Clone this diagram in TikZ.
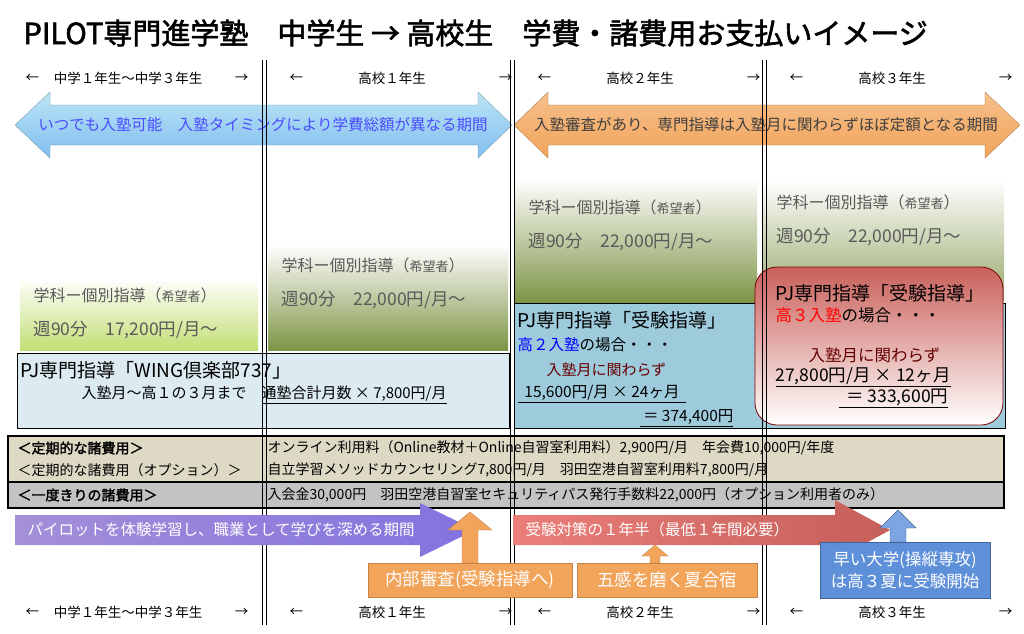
\documentclass[tikz,border=0pt]{standalone}
\usepackage{fontspec}
\newfontfamily\jp[AutoFakeBold=2]{Noto Sans CJK JP}
\definecolor{skyarr}{HTML}{8FD3EE}
\definecolor{orarr}{HTML}{F2A45A}
\definecolor{wingbg}{HTML}{DCEBF1}
\definecolor{jkbg}{HTML}{9ECBDC}
\definecolor{tanbg}{HTML}{DDD9C4}
\definecolor{greybg}{HTML}{C3C3C3}
\definecolor{lime}{HTML}{C2DF74}
\definecolor{olive}{HTML}{7E9446}
\definecolor{redbox}{HTML}{C9605A}
\definecolor{purarr}{HTML}{A48FD8}
\definecolor{redarr}{HTML}{E8706A}
\definecolor{bluebx}{HTML}{5E8FD9}
\begin{document}
\begin{tikzpicture}[x=1pt,y=-1pt,font=\jp,
  yearlbl/.style={font=\jp\fontsize{13.5}{15}\selectfont},
  arrtext/.style={font=\jp\fontsize{15.5}{18}\selectfont},
  upbox/.style={fill=orarr,draw=orarr!80!black,text=white,
    font=\jp\fontsize{17.5}{20}\selectfont,align=center}]
\useasboundingbox (0,0) rectangle (1024,633);
% title
\node[anchor=west,font=\jp\bfseries\fontsize{29}{32}\selectfont] (title) at (20,33)
  {PILOT専門進学塾　中学生 → 高校生　学費・諸費用お支払いイメージ};
% grade columns
\foreach \x/\lbl [count=\i] in {0/中学１年生〜中学３年生,264/高校１年生,512/高校２年生,764/高校３年生}{
  \node[yearlbl] (top\i) at (\x+128,78) {\lbl};
  \node[yearlbl] (bot\i) at (\x+128,612) {\lbl};
  \node[yearlbl,anchor=west] (tl\i) at (\x+22,78) {←};
  \node[yearlbl,anchor=east] (tr\i) at (\x+252,78) {→};
  \node[yearlbl,anchor=west] (bl\i) at (\x+22,612) {←};
  \node[yearlbl,anchor=east] (br\i) at (\x+252,612) {→};
}
% green boxes
\shade[top color=white,bottom color=lime] (20,278) rectangle (258,350);
\shade[top color=white,bottom color=olive] (268,245) rectangle (508,350);
\shade[top color=white,bottom color=olive] (514,178) rectangle (757,302);
\shade[top color=white,bottom color=olive!80] (762,180) rectangle (1004,300);
\foreach \x/\y/\fee [count=\i] in {30/295/17{,}200,278/265/22{,}000,525/207/22{,}000,773/202/22{,}000}{
  \node[anchor=west,text=black!65,font=\jp\fontsize{16}{18}\selectfont] (gk\i) at (\x,\y) {学科ー個別指導（{\fontsize{13}{15}\selectfont 希望者}）};
  \node[anchor=west,text=black!65,font=\jp\fontsize{17.5}{19}\selectfont] (gf\i) at (\x,\y+35) {週90分　\fee 円/月〜};
}
% PJ boxes
\draw[fill=wingbg] (17,353) rectangle (509,428);
\node[anchor=west,font=\jp\fontsize{19}{21}\selectfont] (wing) at (17,370) {PJ専門指導「WING倶楽部737」};
\node[anchor=west,font=\jp\fontsize{15}{17}\selectfont] (wing2) at (78,395)
  {入塾月〜高１の３月まで　\underline{通塾合計月数 × 7,800円/月}};
\draw[fill=jkbg] (514,303) rectangle (1005,428);
\node[anchor=west,font=\jp\fontsize{19}{21}\selectfont] (jk) at (514,320) {PJ専門指導「受験指導」};
\node[anchor=west,font=\jp\fontsize{15.5}{17}\selectfont] (jk2) at (514,345) {\textcolor{blue}{高２入塾}の場合・・・};
\node[anchor=west,text=red!40!black,font=\jp\fontsize{15}{17}\selectfont] (jk3) at (543,370) {入塾月に関わらず};
\node[anchor=west,font=\jp\fontsize{15.5}{17}\selectfont] (jk4) at (514,394) {\underline{\ \ 15,600円/月 × 24ヶ月\ \ }};
\node[anchor=west,font=\jp\fontsize{15.5}{17}\selectfont] (jk5) at (636,418) {\underline{\ ＝ 374,400円}};
\draw[draw=red!50!black,top color=redbox,bottom color=white,rounded corners=22pt,line width=0.8pt]
  (755,267) rectangle (1003,425);
\node[anchor=west,font=\jp\fontsize{19}{21}\selectfont] (rd) at (772,293) {PJ専門指導「受験指導」};
\node[anchor=west,font=\jp\fontsize{16.5}{18}\selectfont] (rd2) at (772,315) {\textcolor{red}{高３入塾}の場合・・・};
\node[anchor=west,text=red!40!black,font=\jp\fontsize{16.5}{18}\selectfont] (rd3) at (805,355) {入塾月に関わらず};
\node[anchor=west,font=\jp\fontsize{17.5}{19}\selectfont] (rd4) at (772,377) {\underline{27,800円/月 × 12ヶ月}};
\node[anchor=west,font=\jp\fontsize{17.5}{19}\selectfont] (rd5) at (835,398) {\underline{\ \ ＝ 333,600円}};
% fee rows
\draw[fill=tanbg,line width=1.2pt] (8,436) rectangle (1004,482);
\draw[fill=greybg,line width=1.2pt] (8,482) rectangle (1004,508);
\node[anchor=west,font=\jp\bfseries\fontsize{14}{16}\selectfont] (f1) at (14,448) {＜定期的な諸費用＞};
\node[anchor=west,font=\jp\fontsize{14}{16}\selectfont] (f1b) at (264,448) {オンライン利用料（Online教材＋Online自習室利用料）2,900円/月　年会費10,000円/年度};
\node[anchor=west,font=\jp\fontsize{14}{16}\selectfont] (f2) at (14,470) {＜定期的な諸費用（オプション）＞};
\node[anchor=west,font=\jp\fontsize{14}{16}\selectfont] (f2b) at (264,470) {自立学習メソッドカウンセリング7,800円/月　羽田空港自習室利用料7,800円/月};
\node[anchor=west,font=\jp\bfseries\fontsize{14}{16}\selectfont] (f3) at (14,495) {＜一度きりの諸費用＞};
\node[anchor=west,font=\jp\fontsize{14}{16}\selectfont] (f3b) at (264,495) {入会金30,000円　羽田空港自習室セキュリティパス発行手数料22,000円（オプション利用者のみ）};
% period arrows
\shade[top color=skyarr!60,bottom color=skyarr!90!blue,draw=skyarr!70!black,line width=0.3pt]
  (15,125) -- (50,92) -- (50,105) -- (478,105) -- (478,92) -- (512,125) -- (478,158) -- (478,145)
  -- (50,145) -- (50,158) -- cycle;
\node[arrtext,text=blue!70] (free) at (263,125) {いつでも入塾可能　入塾タイミングにより学費総額が異なる期間};
\shade[top color=orarr!70,bottom color=orarr,draw=orarr!70!black,line width=0.3pt]
  (514,125) -- (548,92) -- (548,105) -- (985,105) -- (985,92) -- (1020,125) -- (985,158) -- (985,145)
  -- (548,145) -- (548,158) -- cycle;
\node[arrtext,text=black!75] (fixed) at (766,125) {入塾審査があり、専門指導は入塾月に関わらずほぼ定額となる期間};
% column dividers
\foreach \x in {262,510,762}{
  \draw[line width=0.8pt] (\x,60) -- (\x,625);
  \draw[line width=0.8pt] (\x+4,60) -- (\x+4,625);
}
% bottom arrows
\shade[left color=purarr,right color=purarr!80!blue]
  (15,515) -- (420,515) -- (420,503) -- (475,530) -- (420,557) -- (420,545) -- (15,545) -- cycle;
\node[arrtext,text=white,anchor=west] (pilot) at (24,530) {パイロットを体験学習し、職業として学びを深める期間};
\shade[left color=redarr!90,right color=redarr!85!black]
  (513,515) -- (835,515) -- (835,500) -- (890,530) -- (835,560) -- (835,545) -- (513,545) -- cycle;
\node[arrtext,text=white,anchor=west] (juken) at (522,530) {受験対策の１年半（最低１年間必要）};
\draw[fill=orarr,draw=orarr!80!black]
  (470,512) -- (492,530) -- (478,530) -- (478,563) -- (462,563) -- (462,530) -- (448,530) -- cycle;
\node[upbox,minimum width=204pt,minimum height=34pt] (naibu) at (470,580) {内部審査(受験指導へ)};
\draw[fill=orarr,draw=orarr!80!black]
  (655,545) -- (668,556) -- (660,556) -- (660,563) -- (650,563) -- (650,556) -- (642,556) -- cycle;
\node[upbox,minimum width=180pt,minimum height=34pt] (gokan) at (667,580) {五感を磨く夏合宿};
\draw[fill=bluebx!80,draw=bluebx!70!black]
  (898,510) -- (916,528) -- (906,528) -- (906,542) -- (890,542) -- (890,528) -- (880,528) -- cycle;
\node[upbox,fill=bluebx,draw=bluebx!70!black,minimum width=170pt,minimum height=56pt,
  font=\jp\fontsize{16.5}{22}\selectfont] (hayai) at (905,570) {早い大学(操縦専攻)\\は高３夏に受験開始};
\end{tikzpicture}
\end{document}
